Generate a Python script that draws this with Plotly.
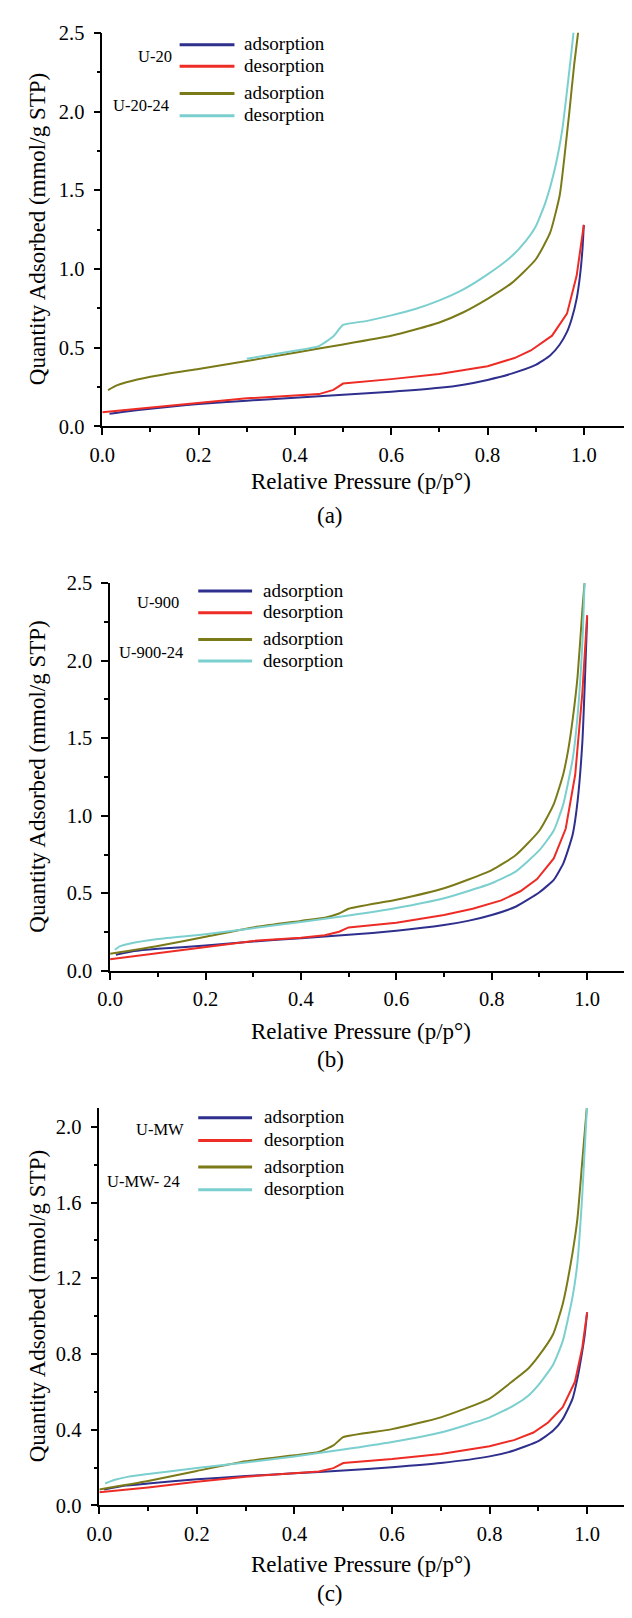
import plotly.graph_objects as go

# The page body adds an 8px offset, so the figure is 8px smaller and all
# screen positions below are converted with that offset.
OFF = 8
W, H = 632 - OFF, 1618 - OFF
FONT = "Liberation Serif, Times New Roman, DejaVu Serif, serif"
BLUE, RED, OLIVE, CYAN = "#2F2F8E", "#EE2C26", "#7A7A18", "#7CCFCF"

# ---------------- panel (a): U-20 / U-20-24 ----------------
a_u20_ads_p = [0.015, 0.05, 0.1, 0.15, 0.2, 0.3, 0.4, 0.5, 0.6, 0.7, 0.75, 0.8, 0.85, 0.9, 0.93, 0.95, 0.965, 0.975, 0.985, 0.992, 0.997, 1.0]
a_u20_ads_v = [0.08, 0.095, 0.112, 0.128, 0.142, 0.163, 0.182, 0.2, 0.22, 0.245, 0.265, 0.295, 0.335, 0.39, 0.45, 0.52, 0.6, 0.685, 0.81, 0.956, 1.12, 1.28]
a_u20_des_p = [0.0, 0.1, 0.2, 0.3, 0.45, 0.48, 0.5, 0.6, 0.7, 0.8, 0.856, 0.89, 0.934, 0.965, 0.985, 1.0]
a_u20_des_v = [0.09, 0.12, 0.15, 0.178, 0.205, 0.232, 0.272, 0.3, 0.333, 0.382, 0.434, 0.482, 0.576, 0.716, 0.956, 1.28]
a_u2024_ads_p = [0.012, 0.03, 0.05, 0.1, 0.2, 0.3, 0.4, 0.5, 0.6, 0.65, 0.7, 0.75, 0.8, 0.85, 0.9, 0.93, 0.95, 0.96, 0.97, 0.98, 0.99]
a_u2024_ads_v = [0.23, 0.26, 0.28, 0.315, 0.365, 0.415, 0.468, 0.52, 0.575, 0.615, 0.66, 0.725, 0.81, 0.91, 1.06, 1.23, 1.47, 1.72, 2.0, 2.3, 2.55]
a_u2024_des_p = [0.3, 0.35, 0.4, 0.45, 0.48, 0.5, 0.55, 0.6, 0.65, 0.7, 0.75, 0.8, 0.85, 0.88, 0.9, 0.92, 0.94, 0.955, 0.965, 0.975, 0.982]
a_u2024_des_v = [0.43, 0.455, 0.48, 0.51, 0.572, 0.644, 0.67, 0.705, 0.745, 0.8, 0.87, 0.965, 1.08, 1.18, 1.27, 1.42, 1.64, 1.88, 2.13, 2.4, 2.6]

# ---------------- panel (b): U-900 / U-900-24 ----------------
b_u900_ads_p = [0.012, 0.05, 0.1, 0.2, 0.3, 0.4, 0.5, 0.6, 0.7, 0.75, 0.8, 0.85, 0.9, 0.93, 0.95, 0.96, 0.97, 0.98, 0.99, 0.995, 1.0]
b_u900_ads_v = [0.104, 0.127, 0.142, 0.163, 0.189, 0.21, 0.232, 0.258, 0.295, 0.322, 0.36, 0.413, 0.507, 0.587, 0.693, 0.78, 0.884, 1.096, 1.478, 1.85, 2.28]
b_u900_des_p = [0.0, 0.1, 0.2, 0.3, 0.4, 0.45, 0.48, 0.5, 0.6, 0.7, 0.76, 0.82, 0.86, 0.895, 0.93, 0.955, 0.975, 0.99, 1.0]
b_u900_des_v = [0.074, 0.114, 0.157, 0.193, 0.214, 0.23, 0.252, 0.28, 0.31, 0.36, 0.4, 0.454, 0.513, 0.592, 0.725, 0.916, 1.266, 1.796, 2.294]
b_u90024_ads_p = [0.0, 0.1, 0.2, 0.3, 0.4, 0.45, 0.48, 0.5, 0.6, 0.7, 0.8, 0.85, 0.9, 0.93, 0.95, 0.96, 0.97, 0.98, 0.99, 0.996]
b_u90024_ads_v = [0.11, 0.16, 0.22, 0.28, 0.322, 0.343, 0.37, 0.4, 0.458, 0.532, 0.65, 0.745, 0.905, 1.075, 1.27, 1.42, 1.63, 1.9, 2.33, 2.56]
b_u90024_des_p = [0.01, 0.02, 0.04, 0.1, 0.2, 0.3, 0.4, 0.5, 0.6, 0.7, 0.8, 0.85, 0.9, 0.93, 0.95, 0.97, 0.98, 0.99, 0.995]
b_u90024_des_v = [0.136, 0.158, 0.175, 0.205, 0.236, 0.275, 0.315, 0.357, 0.405, 0.468, 0.565, 0.64, 0.778, 0.905, 1.075, 1.372, 1.648, 2.114, 2.55]

# ---------------- panel (c): U-MW / U-MW-24 ----------------
c_umw_ads_p = [0.01, 0.05, 0.1, 0.2, 0.3, 0.4, 0.5, 0.6, 0.7, 0.8, 0.85, 0.9, 0.93, 0.95, 0.97, 0.98, 0.99, 0.995, 1.0]
c_umw_ads_v = [0.084, 0.104, 0.116, 0.138, 0.155, 0.17, 0.184, 0.202, 0.224, 0.259, 0.29, 0.34, 0.394, 0.456, 0.563, 0.67, 0.814, 0.9, 1.02]
c_umw_des_p = [0.0, 0.1, 0.2, 0.3, 0.45, 0.48, 0.5, 0.6, 0.7, 0.8, 0.85, 0.89, 0.92, 0.95, 0.975, 0.99, 1.0]
c_umw_des_v = [0.07, 0.095, 0.125, 0.152, 0.179, 0.197, 0.224, 0.245, 0.272, 0.313, 0.345, 0.385, 0.438, 0.519, 0.653, 0.832, 1.02]
c_umw24_ads_p = [0.0, 0.1, 0.2, 0.3, 0.4, 0.45, 0.48, 0.5, 0.6, 0.7, 0.8, 0.85, 0.88, 0.9, 0.93, 0.95, 0.97, 0.98, 0.99, 1.0]
c_umw24_ads_v = [0.084, 0.129, 0.182, 0.233, 0.265, 0.283, 0.317, 0.361, 0.403, 0.465, 0.564, 0.662, 0.725, 0.787, 0.903, 1.064, 1.333, 1.512, 1.816, 2.12]
c_umw24_des_p = [0.012, 0.03, 0.06, 0.1, 0.2, 0.3, 0.4, 0.5, 0.6, 0.7, 0.8, 0.85, 0.88, 0.9, 0.93, 0.95, 0.97, 0.98, 0.99, 1.0]
c_umw24_des_v = [0.116, 0.134, 0.152, 0.166, 0.197, 0.227, 0.259, 0.295, 0.335, 0.385, 0.465, 0.528, 0.581, 0.635, 0.742, 0.868, 1.1, 1.279, 1.637, 2.12]

entry_labels = ["adsorption", "desorption", "adsorption", "desorption"]
colors = [BLUE, RED, OLIVE, CYAN]
smooth = [True, False, True, True]

panels = [
    dict(series=[(a_u20_ads_p, a_u20_ads_v), (a_u20_des_p, a_u20_des_v),
                 (a_u2024_ads_p, a_u2024_ads_v), (a_u2024_des_p, a_u2024_des_v)],
         groups=["U-20", "U-20-24"],
         x0=91, top=22, bottom=421, xmax=1.1, ymax=2.5, dtick=0.5,
         leg_x=(170, 226), leg_y=[34, 56, 83.5, 106], text_x=234,
         grp_xy=[(145, 46), (131, 96)], xt_y=477, lab="(a)", lab_y=511),
    dict(series=[(b_u900_ads_p, b_u900_ads_v), (b_u900_des_p, b_u900_des_v),
                 (b_u90024_ads_p, b_u90024_ads_v), (b_u90024_des_p, b_u90024_des_v)],
         groups=["U-900", "U-900-24"],
         x0=99, top=580, bottom=973, xmax=1.094, ymax=2.5, dtick=0.5,
         leg_x=(189, 244), leg_y=[588, 610, 637, 659], text_x=253,
         grp_xy=[(148, 600), (141, 650)], xt_y=1035, lab="(b)", lab_y=1063),
    dict(series=[(c_umw_ads_p, c_umw_ads_v), (c_umw_des_p, c_umw_des_v),
                 (c_umw24_ads_p, c_umw24_ads_v), (c_umw24_des_p, c_umw24_des_v)],
         groups=["U-MW", "U-MW- 24"],
         x0=88, top=1112, bottom=1515, xmax=1.092, ymax=2.1, dtick=0.4,
         leg_x=(189, 244), leg_y=[1122, 1145, 1172, 1195], text_x=254,
         grp_xy=[(150, 1134), (133, 1187)], xt_y=1575, lab="(c)", lab_y=1604),
]

fig = go.Figure()
shapes, annotations = [], []

def px(x):
    return (x - OFF) / W

def py(y):
    return 1 - (y - OFF) / H

for i, pnl in enumerate(panels):
    k = "" if i == 0 else str(i + 1)
    for (p, v), col, sm in zip(pnl["series"], colors, smooth):
        line = dict(color=col, width=2)
        if sm:
            line.update(shape="spline", smoothing=0.5)
        fig.add_trace(go.Scatter(x=p, y=v, mode="lines", line=line,
                                 xaxis="x" + k, yaxis="y" + k, showlegend=False,
                                 hoverinfo="skip"))
    common = dict(showline=True, linecolor="black", linewidth=1.5, ticks="outside",
                  ticklen=7, tickwidth=1.5, tickcolor="black", showgrid=False,
                  zeroline=False, tickfont=dict(family=FONT, size=20.5, color="black"))
    fig.update_layout(**{
        "xaxis" + k: dict(domain=[px(pnl["x0"]), 1.0], range=[0, pnl["xmax"]],
                          anchor="y" + k, tick0=0, dtick=0.2, tickformat=".1f",
                          ticklabelstandoff=2,
                          minor=dict(ticks="outside", ticklen=4, tickwidth=1.5,
                                     tickcolor="black", dtick=0.1),
                          **common),
        "yaxis" + k: dict(domain=[py(pnl["bottom"]), py(pnl["top"])],
                          range=[0, pnl["ymax"]], anchor="x" + k, tick0=0,
                          dtick=pnl["dtick"], tickformat=".1f",
                          ticklabelstandoff=5,
                          minor=dict(ticks="outside", ticklen=4, tickwidth=1.5,
                                     tickcolor="black", dtick=pnl["dtick"] / 2),
                          **common),
    })
    for j in range(4):
        yl = pnl["leg_y"][j]
        shapes.append(dict(type="line", xref="paper", yref="paper",
                           x0=px(pnl["leg_x"][0]), x1=px(pnl["leg_x"][1]),
                           y0=py(yl), y1=py(yl), line=dict(color=colors[j], width=3)))
        annotations.append(dict(text=entry_labels[j], xref="paper", yref="paper",
                                x=px(pnl["text_x"]), y=py(yl - 1), xanchor="left",
                                yanchor="middle", showarrow=False,
                                font=dict(family=FONT, size=19, color="black")))
    for g, (gx, gy) in zip(pnl["groups"], pnl["grp_xy"]):
        annotations.append(dict(text=g, xref="paper", yref="paper", x=px(gx), y=py(gy),
                                xanchor="center", yanchor="middle", showarrow=False,
                                font=dict(family=FONT, size=16.5, color="black")))
    mid_y = (pnl["top"] + pnl["bottom"]) / 2
    annotations.append(dict(text="Quantity Adsorbed (mmol/g STP)", xref="paper", yref="paper",
                            x=px(25), y=py(mid_y), textangle=-90, xanchor="center",
                            yanchor="middle", showarrow=False,
                            font=dict(family=FONT, size=23, color="black")))
    annotations.append(dict(text="Relative Pressure (p/p°)", xref="paper", yref="paper",
                            x=px(355), y=py(pnl["xt_y"]), xanchor="center",
                            yanchor="middle", showarrow=False,
                            font=dict(family=FONT, size=23, color="black")))
    annotations.append(dict(text=pnl["lab"], xref="paper", yref="paper",
                            x=px(324), y=py(pnl["lab_y"]), xanchor="center",
                            yanchor="middle", showarrow=False,
                            font=dict(family=FONT, size=23, color="black")))

fig.update_layout(width=W, height=H, margin=dict(l=0, r=0, t=0, b=0),
                  paper_bgcolor="white", plot_bgcolor="white",
                  font=dict(family=FONT, color="black"),
                  shapes=shapes, annotations=annotations, showlegend=False)

fig.write_html("out.html")
